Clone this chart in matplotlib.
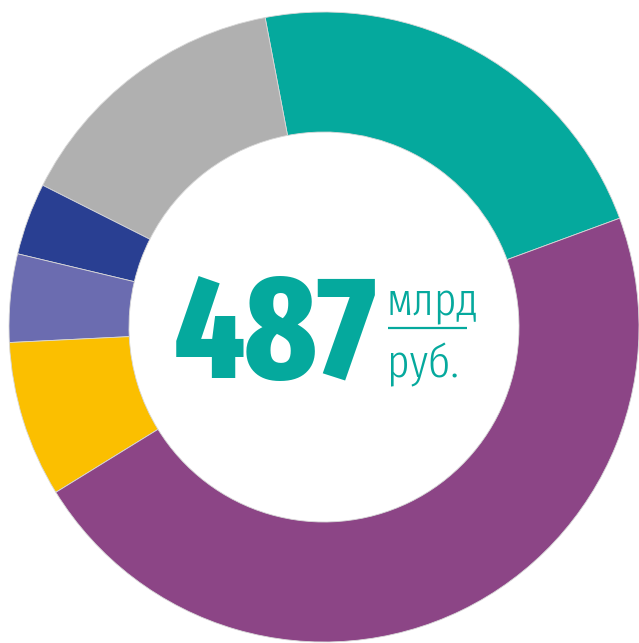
import matplotlib
matplotlib.use("Agg")
import matplotlib.pyplot as plt

# Data (billion rubles, total 487)
categories = ["Сегмент 1", "Сегмент 2", "Сегмент 3", "Сегмент 4", "Сегмент 5", "Сегмент 6"]
values = [109, 71, 18, 22, 39, 228]
colors = ["#05a99d", "#b0b0b0", "#293f92", "#6b6cb0", "#fbbf00", "#8c4586"]
total_label = "487"
unit_top = "млрд"
unit_bottom = "руб."

fam = ["Fira Sans Extra Condensed", "DejaVu Sans"]

fig = plt.figure(figsize=(6.39, 6.43), dpi=100)
ax = fig.add_axes([0, 0, 1, 1])

ax.pie(values, colors=colors, radius=315, startangle=20.2, counterclock=True,
       center=(0, 0), frame=True,
       wedgeprops=dict(width=120, edgecolor="#d8d8d8", linewidth=0.6))
ax.set_xlim(-324, 639 - 324)
ax.set_ylim(-316, 327)
ax.set_aspect("equal")
ax.axis("off")

teal = "#05a99d"
ax.text(-150, -51, total_label, color=teal, fontsize=106, fontweight=800,
        family=fam, ha="left", va="baseline")
ax.text(63, 12, unit_top, color=teal, fontsize=34, fontweight=300,
        family=fam, ha="left", va="baseline")
ax.plot([64, 143], [-1, -1], color=teal, lw=1.6, solid_capstyle="butt")
ax.text(63, -50, unit_bottom, color=teal, fontsize=34, fontweight=300,
        family=fam, ha="left", va="baseline")

fig.savefig("out.png", dpi=100)
